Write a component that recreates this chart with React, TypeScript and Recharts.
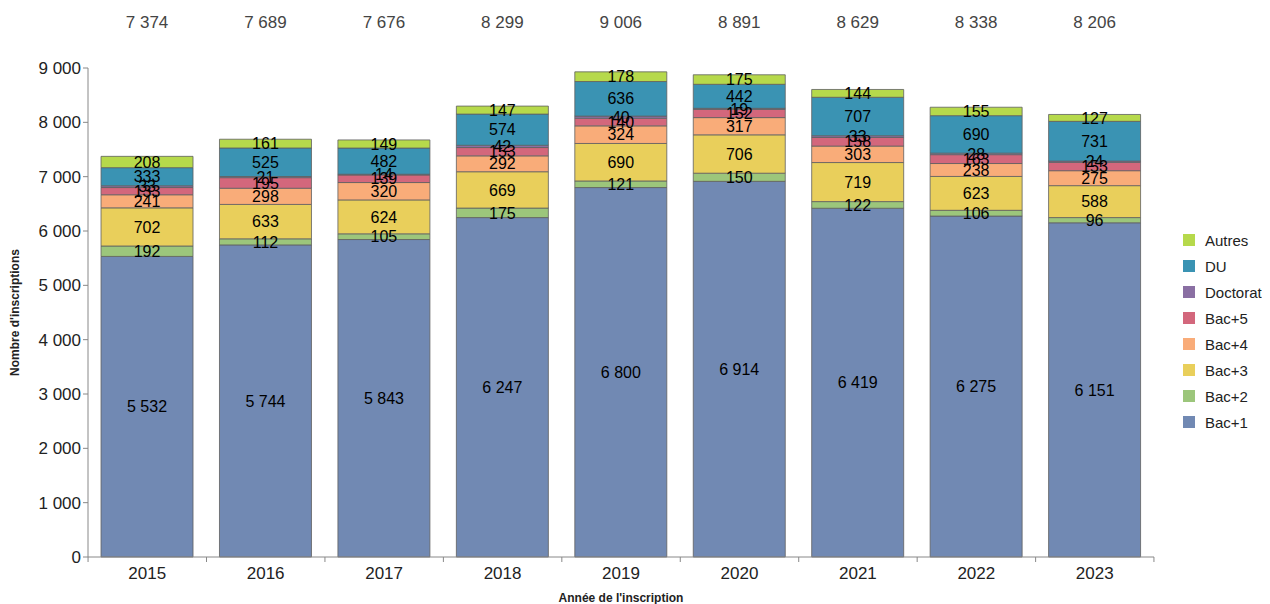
import { BarChart, Bar, XAxis, YAxis, LabelList } from 'recharts';

const years = ['2015', '2016', '2017', '2018', '2019', '2020', '2021', '2022', '2023'];
const totals = [7374, 7689, 7676, 8299, 9006, 8891, 8629, 8338, 8206];
const bac1 = [5532, 5744, 5843, 6247, 6800, 6914, 6419, 6275, 6151];
const bac2 = [192, 112, 105, 175, 121, 150, 122, 106, 96];
const bac3 = [702, 633, 624, 669, 690, 706, 719, 623, 588];
const bac4 = [241, 298, 320, 292, 324, 317, 303, 238, 275];
const bac5 = [133, 195, 139, 153, 140, 152, 158, 163, 153];
const doctorat = [33, 21, 14, 42, 40, 19, 33, 28, 24];
const du = [333, 525, 482, 574, 636, 442, 707, 690, 731];
const autres = [208, 161, 149, 147, 178, 175, 144, 155, 127];
const yTicks = [0, 1000, 2000, 3000, 4000, 5000, 6000, 7000, 8000, 9000];

const series = [
  { key: 'bac1', name: 'Bac+1', color: '#7189b3', values: bac1 },
  { key: 'bac2', name: 'Bac+2', color: '#9cc67b', values: bac2 },
  { key: 'bac3', name: 'Bac+3', color: '#e9cf5b', values: bac3 },
  { key: 'bac4', name: 'Bac+4', color: '#f9ac79', values: bac4 },
  { key: 'bac5', name: 'Bac+5', color: '#d3677c', values: bac5 },
  { key: 'doctorat', name: 'Doctorat', color: '#8a6fa3', values: doctorat },
  { key: 'du', name: 'DU', color: '#3a93b3', values: du },
  { key: 'autres', name: 'Autres', color: '#b6d94b', values: autres },
];

const data = years.map((year, i) => {
  const row: any = { year, total: totals[i] };
  series.forEach(s => { row[s.key] = s.values[i]; });
  return row;
});

const fmt = (v: any) => {
  const n = Number(v);
  if (n < 1000) return String(n);
  return `${Math.floor(n / 1000)} ${String(n % 1000).padStart(3, '0')}`;
};

const font = '"Liberation Sans", Arial, sans-serif';
const band = 1065 / years.length;

const XTick = (props: any) => {
  const { x, y, payload, index } = props;
  return (
    <g>
      <line x1={x - band / 2} x2={x - band / 2} y1={y - 8} y2={y - 3} stroke="#888" />
      {index === years.length - 1 && (
        <line x1={x + band / 2} x2={x + band / 2} y1={y - 8} y2={y - 3} stroke="#888" />
      )}
      <text x={x} y={y + 14} textAnchor="middle" fontSize={17} fill="#222" fontFamily={font}>
        {payload.value}
      </text>
    </g>
  );
};

const TotalLabel = (props: any) => {
  const { x, width, value } = props;
  return (
    <text x={x + width / 2} y={20} textAnchor="middle" fontSize={17} fill="#444" fontFamily={font}>
      {fmt(value)}
    </text>
  );
};

export default function App() {
  return (
    <div style={{ position: 'relative', width: 1262, height: 596, fontFamily: font }}>
      <BarChart
        width={1262}
        height={596}
        data={data}
        margin={{ top: 60, right: 116, left: 0, bottom: 2 }}
        barCategoryGap="11%"
        style={{ overflow: 'visible' }}
      >
        <YAxis
          width={80}
          domain={[0, 9000]}
          ticks={yTicks}
          tickFormatter={fmt}
          tick={{ fontSize: 17, fill: '#222', fontFamily: font }}
          axisLine={{ stroke: '#888' }}
          tickLine={{ stroke: '#888' }}
          tickSize={5}
          label={{
            value: "Nombre d'inscriptions",
            angle: -90,
            position: 'insideLeft',
            offset: 7,
            style: { textAnchor: 'middle', fontSize: 12, fontWeight: 'bold', fill: '#222', fontFamily: font },
          }}
        />
        <XAxis
          dataKey="year"
          height={45}
          tick={<XTick />}
          tickLine={false}
          axisLine={{ stroke: '#888' }}
          label={{
            value: "Année de l'inscription",
            position: 'insideBottom',
            offset: 0,
            style: { fontSize: 12, fontWeight: 'bold', fill: '#222', fontFamily: font },
          }}
        />
        {series.map(s => (
          <Bar
            key={s.key}
            dataKey={s.key}
            name={s.name}
            stackId="a"
            fill={s.color}
            stroke="#5f5f5f"
            strokeWidth={0.8}
            isAnimationActive={false}
          >
            <LabelList
              dataKey={s.key}
              position="center"
              fill="#000"
              fontSize={16}
              fontFamily={font}
              formatter={fmt}
            />
            {s.key === 'autres' && <LabelList dataKey="total" content={<TotalLabel />} />}
          </Bar>
        ))}
      </BarChart>
      <div style={{ position: 'absolute', left: 1175, top: 219 }}>
        {[...series].reverse().map(s => (
          <div key={s.key} style={{ display: 'flex', alignItems: 'center', height: 26 }}>
            <div style={{ width: 12, height: 12, background: s.color, marginRight: 10 }} />
            <span style={{ fontSize: 15, color: '#222' }}>{s.name}</span>
          </div>
        ))}
      </div>
    </div>
  );
}
